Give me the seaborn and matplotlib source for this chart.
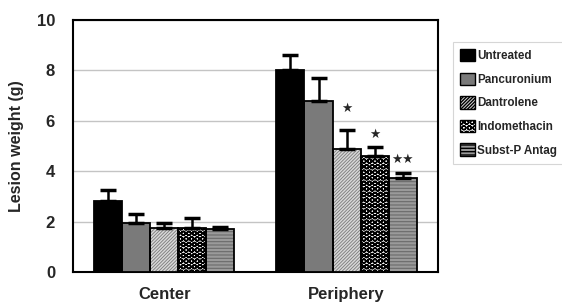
import pandas as pd
import numpy as np
import matplotlib.pyplot as plt
import seaborn as sns

# values
regions = ["Center", "Periphery"]
treatments = ["Untreated", "Pancuronium", "Dantrolene", "Indomethacin", "Subst-P Antag"]
center_mean = [2.82, 1.94, 1.76, 1.73, 1.70]
center_err = [0.43, 0.36, 0.19, 0.40, 0.10]
periph_mean = [8.0, 6.8, 4.9, 4.6, 3.75]
periph_err = [0.6, 0.9, 0.75, 0.35, 0.2]
periph_marks = ["", "", "\u2605", "\u2605", "\u2605\u2605"]
mark_gap = [0, 0, 0.84, 0.53, 0.53]

df = pd.DataFrame({
    "region": np.repeat(regions, len(treatments)),
    "treatment": treatments * 2,
    "weight": center_mean + periph_mean,
    "err": center_err + periph_err,
})

sns.set_style("white")
plt.rcParams["font.family"] = ["Liberation Sans", "DejaVu Sans"]
plt.rcParams["font.weight"] = "bold"

fig, ax = plt.subplots(figsize=(5.62, 3.03), dpi=100)
fig.subplots_adjust(left=0.13, right=0.779, top=0.934, bottom=0.102)

face = ["black", "#7a7a7a", "#d8d8d8", "white", "#9a9a9a"]
hatch = [None, None, "//////////", "OOO", "-----"]
hcol = ["black", "black", "#7a7a7a", "black", "#6a6a6a"]
hlw = [0.8, 0.8, 0.6, 1.15, 0.8]


def style_patch(p, i):
    p.set_facecolor(face[i])
    p.set_edgecolor(hcol[i])
    if hatch[i]:
        p.set_hatch(hatch[i])
    if hasattr(p, "set_hatch_linewidth"):
        p.set_hatch_linewidth(hlw[i])


sns.barplot(data=df, x="region", y="weight", hue="treatment", hue_order=treatments,
            errorbar=None, width=0.77, ax=ax, legend=False, zorder=3)

bars = list(ax.containers)
for i, cont in enumerate(bars):
    for j, p in enumerate(cont.patches):
        style_patch(p, i)
        p.set_linewidth(0)
        # black outline drawn on top
        ax.add_patch(plt.Rectangle(p.get_xy(), p.get_width(), p.get_height(),
                                   fill=False, edgecolor="black", lw=1.3, zorder=4))
        e = df[(df.region == regions[j]) & (df.treatment == treatments[i])]["err"].iloc[0]
        xc = p.get_x() + p.get_width() / 2
        ax.errorbar(xc, p.get_height(), yerr=[[0], [e]], color="black", lw=1.8,
                    capsize=5.5, capthick=2.5, zorder=5)
        if j == 1 and periph_marks[i]:
            ax.text(xc, p.get_height() + e + mark_gap[i], periph_marks[i], ha="center",
                    va="center", fontsize=9, family=["DejaVu Sans"], zorder=6)

ax.set_ylim(0, 10)
ax.set_xlim(-0.5, 1.5)
ax.set_yticks([0, 2, 4, 6, 8, 10])
ax.yaxis.grid(True, color="#c4c4c4", lw=1, zorder=0)
ax.tick_params(axis="y", labelsize=12, length=0, pad=13)
ax.tick_params(axis="x", labelsize=12, length=0, pad=11)
for t in ax.get_xticklabels() + ax.get_yticklabels():
    t.set_fontweight("bold")
ax.set_xlabel("")
ax.set_ylabel("Lesion weight (g)", fontsize=11.5, fontweight="bold", labelpad=9)
for s in ax.spines.values():
    s.set_visible(True)
    s.set_color("black")
    s.set_linewidth(1.5)

handles = []
for i in range(len(treatments)):
    h = plt.Rectangle((0, 0), 1, 1, lw=1)
    style_patch(h, i)
    h.set_edgecolor("black")
    handles.append(h)
leg = fig.legend(handles, treatments, loc="upper left", bbox_to_anchor=(0.806, 0.861),
                 prop={"size": 8.4, "weight": "bold"}, frameon=True, fancybox=False,
                 handlelength=1.25, handleheight=1.25, handletextpad=0.2,
                 labelspacing=0.9, borderpad=0.6, borderaxespad=0)
leg.get_frame().set_edgecolor("#cccccc")
leg.get_frame().set_linewidth(0.8)

fig.savefig("out.png", dpi=100)
